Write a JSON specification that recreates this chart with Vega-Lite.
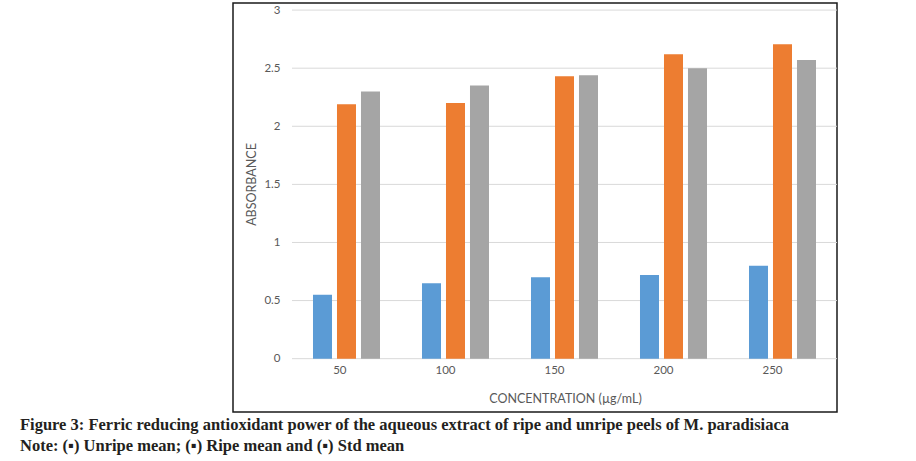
{
  "$schema": "https://vega.github.io/schema/vega-lite/v6.json",
  "autosize": {"type": "none"},
  "width": 604,
  "height": 409,
  "padding": {"left": 233, "top": 3, "right": 79, "bottom": 49},
  "background": "white",
  "config": {
    "view": {"stroke": "#1a1a1a", "strokeWidth": 1.5},
    "font": "Lato"
  },
  "title": {
    "text": "Figure 3: Ferric reducing antioxidant power of the aqueous extract of ripe and unripe peels of M. paradisiaca",
    "subtitle": "Note: (▪) Unripe mean; (▪) Ripe mean and (▪) Std mean",
    "orient": "bottom",
    "anchor": "start",
    "frame": "group",
    "dx": -213,
    "offset": 5,
    "font": "Liberation Serif",
    "fontSize": 16.5,
    "fontWeight": "bold",
    "color": "#231f20",
    "subtitleFont": "Liberation Serif",
    "subtitleFontSize": 16.5,
    "subtitleFontWeight": "bold",
    "subtitleColor": "#231f20",
    "subtitlePadding": 4
  },
  "datasets": {
    "bars": [
      {"conc": "50", "series": "Unripe mean", "value": 0.55},
      {"conc": "50", "series": "Ripe mean", "value": 2.19},
      {"conc": "50", "series": "Std mean", "value": 2.30},
      {"conc": "100", "series": "Unripe mean", "value": 0.65},
      {"conc": "100", "series": "Ripe mean", "value": 2.20},
      {"conc": "100", "series": "Std mean", "value": 2.35},
      {"conc": "150", "series": "Unripe mean", "value": 0.70},
      {"conc": "150", "series": "Ripe mean", "value": 2.43},
      {"conc": "150", "series": "Std mean", "value": 2.44},
      {"conc": "200", "series": "Unripe mean", "value": 0.72},
      {"conc": "200", "series": "Ripe mean", "value": 2.62},
      {"conc": "200", "series": "Std mean", "value": 2.50},
      {"conc": "250", "series": "Unripe mean", "value": 0.80},
      {"conc": "250", "series": "Ripe mean", "value": 2.705},
      {"conc": "250", "series": "Std mean", "value": 2.57}
    ],
    "grid": [
      {"value": 0}, {"value": 0.5}, {"value": 1}, {"value": 1.5},
      {"value": 2}, {"value": 2.5}, {"value": 3}
    ]
  },
  "encoding": {
    "y": {
      "field": "value",
      "type": "quantitative",
      "scale": {"domain": [-0.459, 3.061], "nice": false, "zero": false},
      "axis": {
        "values": [0, 0.5, 1, 1.5, 2, 2.5, 3],
        "format": "~g",
        "grid": false,
        "ticks": false,
        "domain": false,
        "offset": -52,
        "labelPadding": 5,
        "labelFont": "Lato",
        "labelFontSize": 11.5,
        "labelColor": "#595959",
        "title": "ABSORBANCE",
        "titleFont": "Lato",
        "titleFontSize": 12.5,
        "titleFontWeight": "normal",
        "titleColor": "#595959",
        "titleX": -27,
        "titleY": 181
      }
    }
  },
  "layer": [
    {
      "data": {"name": "grid"},
      "mark": {"type": "rule", "color": "#d9d9d9", "strokeWidth": 1},
      "encoding": {
        "x": {"datum": "50", "type": "nominal", "bandPosition": 0},
        "x2": {"value": "width"}
      }
    },
    {
      "data": {"name": "bars"},
      "mark": {"type": "bar"},
      "encoding": {
        "x": {
          "field": "conc",
          "type": "nominal",
          "sort": ["50", "100", "150", "200", "250"],
          "scale": {"paddingInner": 0, "paddingOuter": 0.2706, "align": 1},
          "axis": {
            "labelAngle": 0,
            "domain": false,
            "ticks": false,
            "grid": false,
            "offset": -46,
            "labelPadding": 4,
            "labelFont": "Lato",
            "labelFontSize": 11.5,
            "labelColor": "#595959",
            "title": "CONCENTRATION (µg/mL)",
            "titleFont": "Lato",
            "titleFontSize": 12.5,
            "titleFontWeight": "normal",
            "titleColor": "#595959",
            "titleX": 332,
            "titleY": 32,
            "titleBaseline": "middle"
          }
        },
        "xOffset": {
          "field": "series",
          "type": "nominal",
          "sort": ["Unripe mean", "Ripe mean", "Std mean"],
          "scale": {"paddingInner": 0.208, "paddingOuter": 0.875}
        },
        "y2": {"datum": 0},
        "color": {
          "field": "series",
          "type": "nominal",
          "sort": ["Unripe mean", "Ripe mean", "Std mean"],
          "scale": {"domain": ["Unripe mean", "Ripe mean", "Std mean"], "range": ["#5b9bd5", "#ed7d31", "#a5a5a5"]},
          "legend": null
        }
      }
    }
  ]
}
